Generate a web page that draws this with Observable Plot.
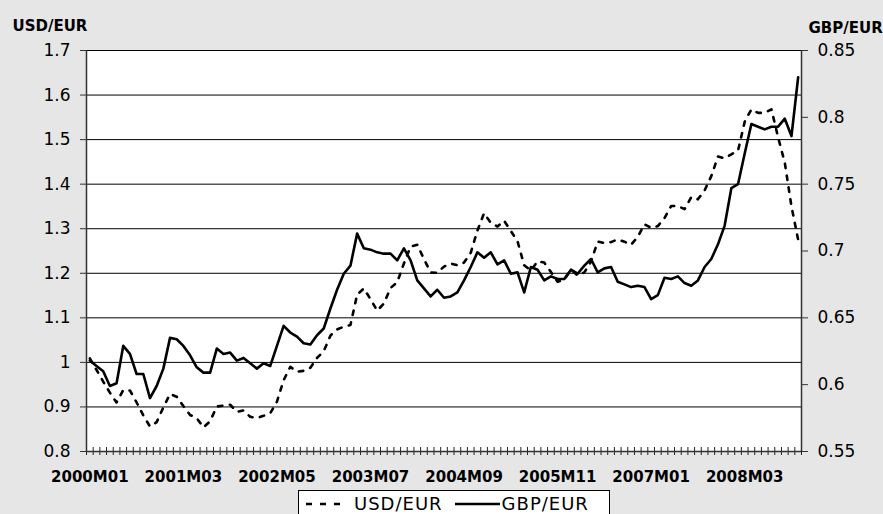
<!DOCTYPE html>
<html>
<head>
<meta charset="utf-8">
<script src="https://cdn.jsdelivr.net/npm/d3@7"></script>
<script src="https://cdn.jsdelivr.net/npm/@observablehq/plot@0.6"></script>
<style>
  html, body { margin: 0; padding: 0; background: #e6e6e6; width: 883px; height: 514px; overflow: hidden; position: relative; }
  #chart { position: absolute; left: 0; top: 0; }
  #legend { position: absolute; left: 298px; top: 490px; width: 312px; height: 24px; background: white; border: 1px solid black; border-bottom: none; box-sizing: border-box;
    font-family: "DejaVu Sans", sans-serif; font-size: 18px; line-height: 18px; letter-spacing: 1px; display: flex; align-items: center; padding-left: 7px; padding-top: 2px; }
  #legend .item { display: flex; align-items: center; }
  #legend .item + .item { margin-left: 12px; }
  #legend svg { display: block; }
</style>
</head>
<body>
<div id="chart"></div>
<div id="legend"></div>
<script>
// Monthly averages, 2000M01 .. 2008M11
const startYear = 2000;
const usdEur = [
  1.009, 0.983, 0.957, 0.932, 0.910, 0.938, 0.937, 0.910, 0.881, 0.856, 0.866, 0.899,
  0.929, 0.923, 0.902, 0.882, 0.875, 0.854, 0.868, 0.901, 0.903, 0.905, 0.889, 0.892,
  0.878, 0.875, 0.880, 0.886, 0.912, 0.960, 0.990, 0.979, 0.981, 0.988, 1.010, 1.025,
  1.060, 1.074, 1.080, 1.084, 1.152, 1.166, 1.142, 1.116, 1.132, 1.167, 1.180, 1.222,
  1.260, 1.264, 1.232, 1.202, 1.201, 1.215, 1.222, 1.218, 1.224, 1.246, 1.296, 1.335,
  1.313, 1.305, 1.318, 1.295, 1.272, 1.218, 1.206, 1.227, 1.224, 1.203, 1.181, 1.186,
  1.208, 1.195, 1.202, 1.226, 1.271, 1.268, 1.270, 1.276, 1.271, 1.264, 1.282, 1.310,
  1.302, 1.306, 1.324, 1.351, 1.351, 1.344, 1.371, 1.366, 1.386, 1.418, 1.462, 1.458,
  1.467, 1.475, 1.540, 1.568, 1.560, 1.560, 1.568, 1.505, 1.448, 1.350, 1.275
];
const gbpEur = [
  0.618, 0.614, 0.610, 0.599, 0.601, 0.629, 0.623, 0.608, 0.608, 0.590, 0.599, 0.612,
  0.635, 0.634, 0.629, 0.622, 0.613, 0.609, 0.609, 0.627, 0.623, 0.624, 0.618, 0.620,
  0.616, 0.612, 0.616, 0.614, 0.629, 0.644, 0.639, 0.636, 0.631, 0.630, 0.637, 0.642,
  0.657, 0.671, 0.683, 0.689, 0.713, 0.702, 0.701, 0.699, 0.698, 0.698, 0.693, 0.702,
  0.693, 0.678, 0.672, 0.666, 0.671, 0.665, 0.666, 0.669, 0.678, 0.688, 0.699, 0.695,
  0.699, 0.690, 0.693, 0.683, 0.684, 0.669, 0.688, 0.686, 0.678, 0.681, 0.679, 0.679,
  0.686, 0.683, 0.689, 0.694, 0.684, 0.687, 0.688, 0.677, 0.675, 0.673, 0.674, 0.673,
  0.664, 0.667, 0.680, 0.679, 0.681, 0.676, 0.674, 0.678, 0.688, 0.694, 0.705, 0.719,
  0.747, 0.750, 0.773, 0.795, 0.793, 0.791, 0.793, 0.793, 0.799, 0.786, 0.830
];
const xTickLabels = ["2000M01", "2001M03", "2002M05", "2003M07", "2004M09", "2005M11", "2007M01", "2008M03"];
const leftTicks = [0.8, 0.9, 1.0, 1.1, 1.2, 1.3, 1.4, 1.5, 1.6, 1.7];
const rightTicks = [0.55, 0.6, 0.65, 0.7, 0.75, 0.8, 0.85];
const leftDomain = [0.8, 1.7];
const rightDomain = [0.55, 0.85];
const seriesNames = ["USD/EUR", "GBP/EUR"];

const N = usdEur.length;
const monthLabel = i => `${startYear + Math.floor(i / 12)}M${String(i % 12 + 1).padStart(2, "0")}`;
const data = usdEur.map((u, i) => ({i, label: monthLabel(i), usd: u, gbp: gbpEur[i]}));
const labelIdx = xTickLabels.map(l => data.findIndex(d => d.label === l));
const labelOf = new Map(labelIdx.map((k, j) => [k, xTickLabels[j]]));
// map right-axis (GBP) values onto the left scale and back
const ratio = (leftDomain[1] - leftDomain[0]) / (rightDomain[1] - rightDomain[0]);
const toLeft = g => leftDomain[0] + (g - rightDomain[0]) * ratio;
const toRight = v => rightDomain[0] + (v - leftDomain[0]) / ratio;
const fmt = v => String(+v.toFixed(2));
const boundaries = d3.range(N + 1).map(k => k - 0.5);

const chart = Plot.plot({
  width: 883,
  height: 480,
  marginLeft: 86,
  marginRight: 82,
  marginTop: 50,
  marginBottom: 29,
  style: {background: "transparent", fontFamily: "DejaVu Sans, sans-serif", color: "black", overflow: "visible"},
  x: {domain: [-0.5, N - 0.5]},
  y: {domain: leftDomain},
  marks: [
    Plot.frame({fill: "white", stroke: null}),
    Plot.gridY(leftTicks, {stroke: "black", strokeOpacity: 1, strokeWidth: 1}),
    Plot.axisY(leftTicks, {anchor: "left", tickSize: 6, tickPadding: 10, tickFormat: fmt, label: null, fontSize: 17, stroke: "#333"}),
    Plot.axisY(rightTicks.map(toLeft), {anchor: "right", tickSize: 6, tickPadding: 10, tickFormat: v => fmt(toRight(v)), label: null, fontSize: 17, stroke: "#333"}),
    Plot.axisX(boundaries, {tickSize: 8, dy: -4, tickFormat: () => "", label: null, stroke: "#222"}),
    Plot.axisX(labelIdx, {tickSize: 0, tickPadding: 20, tickFormat: k => labelOf.get(k), label: null, fontSize: 15, fontWeight: "bold"}),
    Plot.ruleY([leftDomain[0]], {stroke: "#333", strokeWidth: 1.5}),
    Plot.ruleX([-0.5, N - 0.5], {stroke: "#333", strokeWidth: 1.5}),
    Plot.line(data, {x: "i", y: "usd", stroke: "black", strokeWidth: 2.6, strokeDasharray: "4.5,7.5"}),
    Plot.line(data, {x: "i", y: d => toLeft(d.gbp), stroke: "black", strokeWidth: 2.6}),
    Plot.text([seriesNames[0]], {frameAnchor: "top-left", dx: -74, dy: -30, textAnchor: "start", fontSize: 15, fontWeight: "bold"}),
    Plot.text([seriesNames[1]], {frameAnchor: "top-right", dx: 7, dy: -28, textAnchor: "start", fontSize: 15, fontWeight: "bold"})
  ]
});
document.getElementById("chart").appendChild(chart);

const legend = document.getElementById("legend");
seriesNames.forEach((name, j) => {
  const item = document.createElement("div");
  item.className = "item";
  const w = j === 0 ? 40 : 45;
  const gap = j === 0 ? 8 : 2;
  const dash = j === 0 ? 'stroke-dasharray="6,8"' : "";
  item.innerHTML = `<svg width="${w}" height="10" style="margin-right:${gap}px"><line x1="0" y1="5" x2="${w}" y2="5" stroke="black" stroke-width="2.5" ${dash}/></svg><span>${name}</span>`;
  legend.appendChild(item);
});
</script>
</body>
</html>
